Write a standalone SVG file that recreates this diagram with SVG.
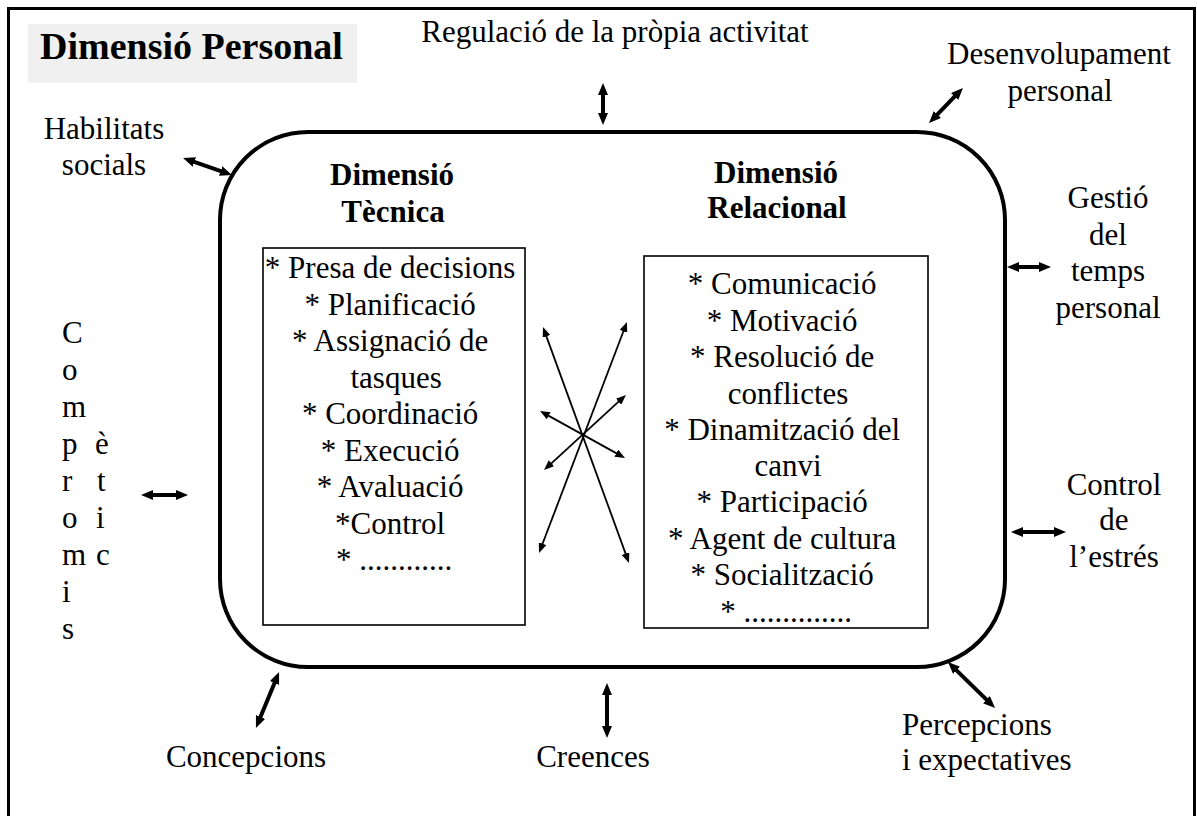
<svg xmlns="http://www.w3.org/2000/svg" width="1197" height="816" viewBox="0 0 1197 816" font-family="'Liberation Serif', Tinos, 'Times New Roman', Times, serif">
<style>
text{font-family:"Liberation Serif",Tinos,"Times New Roman",Times,serif;font-size:31px;fill:#000}
.b{font-weight:bold}
.t{font-size:38px;font-weight:bold}
.m{text-anchor:middle}
.thick{stroke:#000;stroke-width:4;fill:none}
.thin{stroke:#000;stroke-width:1.8;fill:none}
</style>
<defs>
<marker id="ah" viewBox="0 0 12 10" refX="4" refY="5" markerWidth="12" markerHeight="10" markerUnits="userSpaceOnUse" orient="auto-start-reverse"><path d="M0,0 L12,5 L0,10 Z" fill="#000"/></marker>
<marker id="at" viewBox="0 0 10 8" refX="3" refY="4" markerWidth="10" markerHeight="8" markerUnits="userSpaceOnUse" orient="auto-start-reverse"><path d="M0,0 L10,4 L0,8 Z" fill="#000"/></marker>
</defs>
<rect width="1197" height="816" fill="#fff"/>
<rect x="8.5" y="8.5" width="1186" height="830" fill="none" stroke="#000" stroke-width="3"/>
<g id="title">
<rect x="28" y="24" width="329" height="59" fill="#f0f0f0"/>
<text class="t" x="40" y="59">Dimensió Personal</text>
</g>
<g id="core">
<rect x="220" y="132" width="785" height="535" rx="88" ry="88" fill="none" stroke="#000" stroke-width="4"/>
</g>
<g id="tecnica">
<text class="b m" x="392" y="185">Dimensió</text>
<text class="b m" x="393" y="222">Tècnica</text>
<rect x="263" y="248" width="262" height="377" fill="none" stroke="#000" stroke-width="1.6"/>
<text class="m" x="394">
<tspan x="394" y="278">* Presa de decisions</tspan>
<tspan x="394" y="314.5">* Planificació</tspan>
<tspan x="394" y="351">* Assignació de</tspan>
<tspan x="400" y="387.5">tasques</tspan>
<tspan x="394" y="424">* Coordinació</tspan>
<tspan x="394" y="460.5">* Execució</tspan>
<tspan x="394" y="497">* Avaluació</tspan>
<tspan x="394" y="533.5">*Control</tspan>
<tspan x="394" y="570">* ............</tspan>
</text>
</g>
<g id="relacional">
<text class="b m" x="776" y="183">Dimensió</text>
<text class="b m" x="777" y="218">Relacional</text>
<rect x="644" y="256" width="284" height="372" fill="none" stroke="#000" stroke-width="1.6"/>
<text class="m" x="786">
<tspan x="786" y="294">* Comunicació</tspan>
<tspan x="786" y="331">* Motivació</tspan>
<tspan x="786" y="367">* Resolució de</tspan>
<tspan x="792" y="404">conflictes</tspan>
<tspan x="786" y="440">* Dinamització del</tspan>
<tspan x="792" y="476">canvi</tspan>
<tspan x="786" y="512">* Participació</tspan>
<tspan x="786" y="549">* Agent de cultura</tspan>
<tspan x="786" y="585">* Socialització</tspan>
<tspan x="786" y="622">* ..............</tspan>
</text>
</g>
<g id="regulacio"><text class="m" x="615" y="42">Regulació de la pròpia activitat</text></g>
<g id="desenvolupament">
<text class="m" x="1059" y="64">Desenvolupament</text>
<text class="m" x="1060" y="101">personal</text>
</g>
<g id="habilitats">
<text class="m" x="104" y="139">Habilitats</text>
<text class="m" x="104" y="175">socials</text>
</g>
<g id="gestio">
<text class="m" x="1108" y="208">Gestió</text>
<text class="m" x="1108" y="245">del</text>
<text class="m" x="1108" y="281">temps</text>
<text class="m" x="1108" y="318">personal</text>
</g>
<g id="control">
<text class="m" x="1114" y="495">Control</text>
<text class="m" x="1114" y="530">de</text>
<text class="m" x="1114" y="567">l’estrés</text>
</g>
<g id="percepcions">
<text x="902" y="735">Percepcions</text>
<text x="902" y="770">i expectatives</text>
</g>
<g id="concepcions"><text class="m" x="246" y="767">Concepcions</text></g>
<g id="creences"><text class="m" x="593" y="767">Creences</text></g>
<g id="compromis">
<text x="62" y="343">C</text>
<text x="62" y="380">o</text>
<text x="62" y="417">m</text>
<text x="62" y="454">p</text>
<text x="62" y="491">r</text>
<text x="62" y="528">o</text>
<text x="62" y="565">m</text>
<text x="62" y="602">i</text>
<text x="62" y="639">s</text>
<text x="95" y="454">è</text>
<text x="97" y="491">t</text>
<text x="96" y="528">i</text>
<text x="96" y="565">c</text>
</g>
<g id="connectors">
<line class="thick" x1="603" y1="91" x2="603" y2="117" marker-start="url(#ah)" marker-end="url(#ah)"/>
<line class="thick" x1="957.4" y1="93.7" x2="934.6" y2="117.3" marker-start="url(#ah)" marker-end="url(#ah)"/>
<line class="thick" x1="190.6" y1="160.6" x2="224.4" y2="172.4" marker-start="url(#ah)" marker-end="url(#ah)"/>
<line class="thick" x1="149" y1="495" x2="180" y2="495" marker-start="url(#ah)" marker-end="url(#ah)"/>
<line class="thick" x1="1015" y1="267" x2="1043" y2="267" marker-start="url(#ah)" marker-end="url(#ah)"/>
<line class="thick" x1="1019" y1="532" x2="1058" y2="532" marker-start="url(#ah)" marker-end="url(#ah)"/>
<line class="thick" x1="953.7" y1="667.6" x2="989.3" y2="702.4" marker-start="url(#ah)" marker-end="url(#ah)"/>
<line class="thick" x1="276" y1="679.4" x2="259" y2="720.6" marker-start="url(#ah)" marker-end="url(#ah)"/>
<line class="thick" x1="607" y1="691" x2="607" y2="730" marker-start="url(#ah)" marker-end="url(#ah)"/>
<line class="thin" x1="545.4" y1="333.6" x2="626.6" y2="556.4" marker-start="url(#at)" marker-end="url(#at)"/>
<line class="thin" x1="624.5" y1="328.5" x2="541.5" y2="546.5" marker-start="url(#at)" marker-end="url(#at)"/>
<line class="thin" x1="546.1" y1="414.4" x2="618.9" y2="454.6" marker-start="url(#at)" marker-end="url(#at)"/>
<line class="thin" x1="620.8" y1="399.7" x2="549.2" y2="465.3" marker-start="url(#at)" marker-end="url(#at)"/>
</g>
</svg>
